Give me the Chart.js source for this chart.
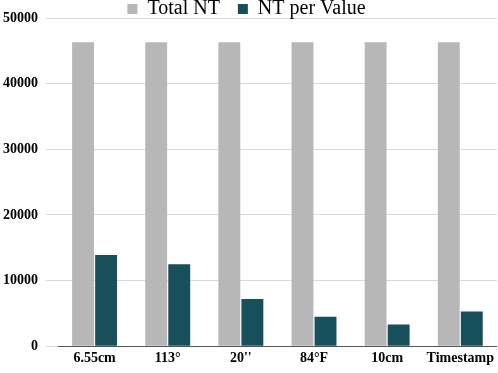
<!DOCTYPE html>
<html>
<head>
<meta charset="utf-8">
<script src="https://cdn.jsdelivr.net/npm/chart.js@4"></script>
<style>
  html, body { margin: 0; padding: 0; background: #fff; }
  #wrap { width: 498px; height: 373px; }
</style>
</head>
<body>
<div id="wrap"><canvas id="grafico"></canvas></div>
<script>
const categorias = ["6.55cm", "113°", "20''", "84°F", "10cm", "Timestamp"];
const totalNT = [46300, 46300, 46300, 46300, 46300, 46300];
const ntPorValor = [13900, 12500, 7200, 4500, 3300, 5300];

// legenda mais baixa, encosta no topo do grafico
const legendaCompacta = {
  id: "legendaCompacta",
  beforeInit(chart) {
    const fit = chart.legend.fit;
    chart.legend.fit = function () {
      fit.bind(chart.legend)();
      this.height -= 30;
    };
  },
  afterLayout(chart) {
    // sobe a legenda e amplia a area de recorte para o texto caber
    chart.legend.top -= 19;
    chart.legend.bottom = chart.legend.top + 50;
  }
};

new Chart(document.getElementById("grafico"), {
  type: "bar",
  data: {
    labels: categorias,
    datasets: [
      { label: "Total NT", data: totalNT, backgroundColor: "#b7b7b7" },
      { label: "NT per Value", data: ntPorValor, backgroundColor: "#174f5b" }
    ]
  },
  plugins: [legendaCompacta],
  options: {
    responsive: true,
    maintainAspectRatio: false,
    animation: false,
    categoryPercentage: 0.63,
    barPercentage: 0.95,
    layout: { padding: { top: 0, right: 0, left: -5, bottom: 2 } },
    plugins: {
      legend: {
        position: "top",
        labels: {
          font: { family: "Liberation Serif", size: 20 },
          color: "#000",
          boxWidth: 10,
          boxHeight: 10,
          padding: 18
        }
      },
      tooltip: { enabled: false }
    },
    scales: {
      x: {
        grid: { display: false, drawTicks: false },
        border: { color: "#555", width: 1 },
        ticks: {
          font: { family: "Liberation Serif", size: 14, weight: "bold" },
          color: "#000",
          maxRotation: 0,
          padding: 4
        }
      },
      y: {
        min: 0,
        max: 50000,
        border: { display: false },
        grid: { color: "#d9d9d9", tickLength: 12 },
        ticks: {
          stepSize: 10000,
          font: { family: "Liberation Serif", size: 14, weight: "bold" },
          color: "#000",
          padding: 8,
          callback: v => String(v)
        }
      }
    }
  }
});
</script>
</body>
</html>
